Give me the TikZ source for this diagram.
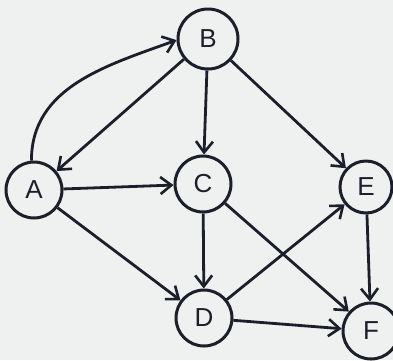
\documentclass[tikz,border=0pt]{standalone}
\usepackage{fontspec}
\setsansfont{Liberation Sans}
\usetikzlibrary{arrows.meta}
\definecolor{ink}{HTML}{1C1F2A}
\definecolor{paper}{HTML}{EEF1EF}
\begin{document}
\begin{tikzpicture}[x=1pt,y=-1pt,
  vert/.style={circle,draw=ink,line width=3pt,minimum size=56pt,inner sep=0pt,
    font=\sffamily\fontsize{26}{26}\selectfont,text=ink},
  edge/.style={draw=ink,line width=2.8pt,-{Straight Barb[length=11pt,width=17pt,line width=2.6pt]}}]
\fill[paper] (0,0) rectangle (393,360);
\useasboundingbox (0,0) rectangle (393,360);
\node[vert,minimum size=60pt] (B) at (208,39) {B};
\node[vert] (A) at (34,190) {A};
\node[vert] (C) at (203,184) {C};
\node[vert,minimum size=52pt] (E) at (366,187) {E};
\node[vert] (D) at (204,318) {D};
\node[vert] (F) at (371,331) {F};
\draw[edge] (A.95) to[out=90,in=200] (B.182);
\draw[edge] (B.220) -- (A.40);
\draw[edge] (B) -- (C);
\draw[edge] (B) -- (E);
\draw[edge] (A) -- (C);
\draw[edge] (A) -- (D);
\draw[edge] (C) -- (D);
\draw[edge] (C) -- (F);
\draw[edge] (D) -- (E);
\draw[edge] (D) -- (F);
\draw[edge] (E) -- (F);
\end{tikzpicture}
\end{document}
